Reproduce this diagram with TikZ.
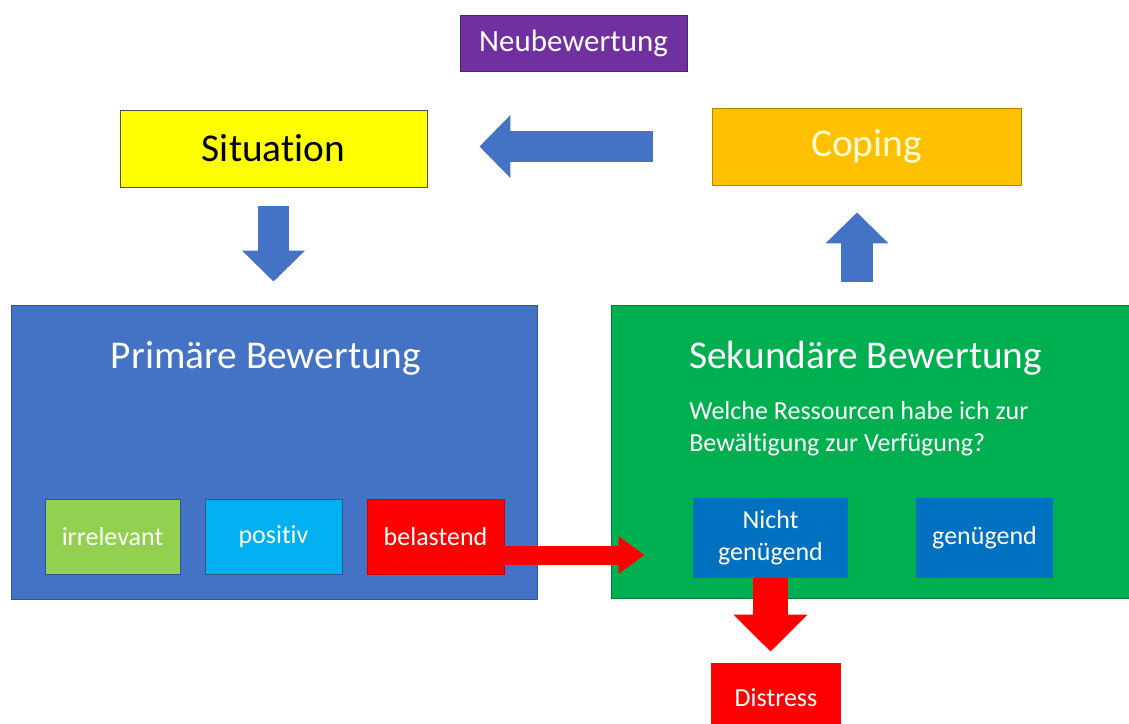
\documentclass[tikz,border=0pt]{standalone}
\usepackage{fontspec}
\setmainfont{Carlito}[Ligatures=NoCommon]
\usetikzlibrary{arrows.meta}
\definecolor{neupurple}{HTML}{7030A0}
\definecolor{sityellow}{HTML}{FFFF00}
\definecolor{coporange}{HTML}{FFC000}
\definecolor{primblue}{HTML}{4472C4}
\definecolor{sekgreen}{HTML}{00B050}
\definecolor{irrgreen}{HTML}{92D050}
\definecolor{poscyan}{HTML}{00B0F0}
\definecolor{resblue}{HTML}{0070C0}
\def\bigfont{\fontsize{28}{32}\selectfont}
\def\midfont{\fontsize{22}{26}\selectfont}
\def\smallfont{\fontsize{18.5}{22.5}\selectfont}

\tikzset{
  box/.style={rectangle, inner sep=0pt, draw=#1!70!black, fill=#1, line width=0.6pt},
  bluearrow/.style={primblue, line width=0.78cm, -{Triangle[width=1.52cm,length=0.77cm]}}
}

\begin{document}
\begin{tikzpicture}[x=0.025cm, y=-0.025cm]
  \useasboundingbox (0,0) rectangle (1129,723);
  \node[box=neupurple, minimum width=5.675cm, minimum height=1.4cm, text=white, font=\midfont] (neu) at (573.5,43) {Neubewertung};
  \node[box=sityellow, draw=black!70, minimum width=7.675cm, minimum height=1.925cm, font=\bigfont] (sit) at (273.5,148.5) {Situation};
  \node[box=coporange, minimum width=7.725cm, minimum height=1.925cm, text=yellow!15, font=\bigfont] (cop) at (866.5,146.5) {Coping};

  \node[box=primblue, draw=primblue!75!black, minimum width=13.15cm, minimum height=7.35cm] (prim) at (274,452) {};
  \node[text=white, font=\bigfont] (primtitle) at (266,358) {Primäre Bewertung};
  \node[box=sekgreen, draw=sekgreen!70!black, minimum width=12.95cm, minimum height=7.325cm] (sek) at (870,451.5) {};
  \node[text=white, anchor=west, inner sep=0pt, font=\bigfont] (sektitle) at (689,358) {Sekundäre Bewertung};
  \node[text=white, anchor=west, align=left, inner sep=0pt, font=\smallfont] (frage) at (689,429) {Welche Ressourcen habe ich zur\\Bewältigung zur Verfügung?};

  \node[box=irrgreen, draw=primblue!75!black, minimum width=3.375cm, minimum height=1.875cm, text=white, font=\smallfont] (irr) at (112.5,536.5) {irrelevant};
  \node[box=poscyan, draw=primblue!75!black, minimum width=3.425cm, minimum height=1.875cm, text=white, font=\smallfont] (pos) at (273.5,536.5) {positiv};
  \node[box=red, draw=red!80!black, minimum width=3.425cm, minimum height=1.875cm, text=white, font=\smallfont] (bel) at (435.5,536.5) {belastend};
  \node[box=resblue, draw=none, minimum width=3.875cm, minimum height=2cm, text=white, align=center, font=\smallfont] (nicht) at (770.5,538) {Nicht\\genügend};
  \node[box=resblue, draw=none, minimum width=3.425cm, minimum height=2cm, text=white, font=\smallfont] (gen) at (984.5,538) {genügend};
  \node[box=red, draw=none, minimum width=3.25cm, minimum height=1.75cm, text=white, font=\smallfont] (dis) at (776,698) {Distress};

  \coordinate (upx) at (857,0);
  \coordinate (redy) at (0,555);
  \draw[bluearrow, shorten <=1.475cm, shorten >=1.3cm] (cop.west) -- (cop.west -| sit.east);
  \draw[bluearrow, shorten <=0.475cm, shorten >=0.575cm] (sit.south) -- (sit.south |- prim.north);
  \draw[bluearrow, shorten <=0.575cm, shorten >=0.675cm] (sek.north -| upx) -- (cop.south -| upx);
  \draw[red, line width=0.475cm, -{Triangle[width=0.9cm,length=0.65cm]}, shorten >=1.2cm] (bel.east |- redy) -- (nicht.west |- redy);
  \draw[red, line width=0.875cm, -{Triangle[width=1.8cm,length=0.925cm]}, shorten >=0.275cm] (nicht.south) -- (nicht.south |- dis.north);
\end{tikzpicture}
\end{document}
